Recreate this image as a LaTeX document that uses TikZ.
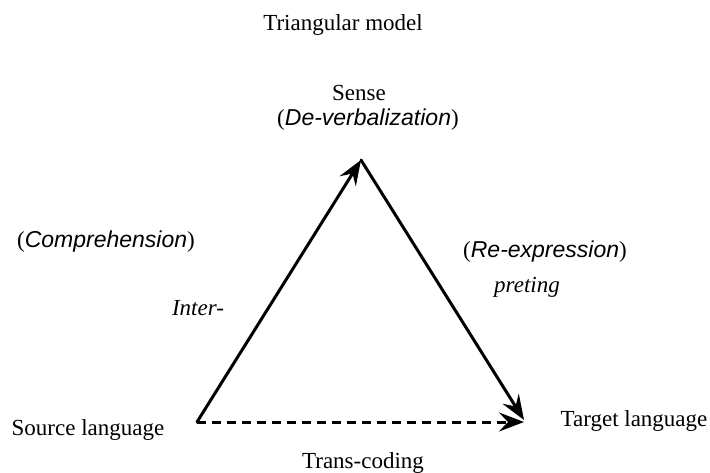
\documentclass[tikz,border=0pt]{standalone}
\usepackage{fontspec}
\setmainfont{Liberation Serif}
\newfontfamily\itsans{Liberation Sans}
\usetikzlibrary{arrows.meta}
\newcommand{\sit}[1]{{\itsans\itshape #1}}
\begin{document}
\begin{tikzpicture}[x=1pt,y=-1pt,
    lbl/.style={font=\fontsize{23}{27}\selectfont,inner sep=0pt},
    side/.style={line width=3pt,line cap=round,-{Stealth[length=25pt,width=19pt,inset=9pt]}},
    base/.style={line width=3pt,dash pattern=on 9pt off 6pt,-{Stealth[length=25pt,width=19pt,inset=9pt]}}]
    \useasboundingbox (0,0) rectangle (710,473);
    \coordinate (src) at (197,422);
    \coordinate (apex) at (361,160);
    \coordinate (tgt) at (524,420);
    \draw[side] (src)--(apex);
    \draw[side] (apex)--(tgt);
    \draw[base] (src)--(tgt|-src);
    \node[lbl] (title) at (343,25) {Triangular model};
    \node[lbl] (sense) at (359,93) {Sense};
    \node[lbl] (deverb) at (368,120) {(\sit{De-verbalization})};
    \node[lbl] (compr) at (106,242) {(\sit{Comprehension})};
    \node[lbl] (inter) at (198,308) {\textit{Inter-}};
    \node[lbl] (reexpr) at (545,252) {(\sit{Re-expression})};
    \node[lbl] (pret) at (527,287) {\textit{preting}};
    \node[lbl] (srclang) at (88,430) {Source language};
    \node[lbl] (tgtlang) at (634,421) {Target language};
    \node[lbl] (trans) at (363,463) {Trans-coding};
\end{tikzpicture}
\end{document}
